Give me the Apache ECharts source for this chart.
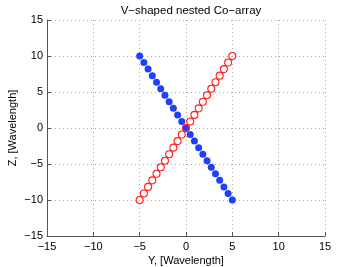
<!DOCTYPE html>
<html><head><meta charset="utf-8">
<script src="https://cdn.jsdelivr.net/npm/echarts@6/dist/echarts.min.js"></script>
<style>html,body{margin:0;padding:0;background:#fff}#c{width:359px;height:267px}</style>
</head><body><div id="c"></div>
<script>
var title = 'V\u2212shaped nested Co\u2212array';
var xLabel = 'Y, [Wavelength]';
var yLabel = 'Z, [Wavelength]';
var axisTicks = [-15, -10, -5, 0, 5, 10, 15];
var posY = [-5, -4.545, -4.091, -3.636, -3.182, -2.727, -2.273, -1.818, -1.364, -0.909, -0.455, 0, 0.455, 0.909, 1.364, 1.818, 2.273, 2.727, 3.182, 3.636, 4.091, 4.545, 5];
var blueZ = [10, 9.091, 8.182, 7.273, 6.364, 5.455, 4.545, 3.636, 2.727, 1.818, 0.909, 0, -0.909, -1.818, -2.727, -3.636, -4.545, -5.455, -6.364, -7.273, -8.182, -9.091, -10];
var redZ = [-10, -9.091, -8.182, -7.273, -6.364, -5.455, -4.545, -3.636, -2.727, -1.818, -0.909, 0, 0.909, 1.818, 2.727, 3.636, 4.545, 5.455, 6.364, 7.273, 8.182, 9.091, 10];

function pairs(xs, ys){ return xs.map(function(x,i){ return [x, ys[i]]; }); }
function fmt(v){ return String(v).replace('-', '\u2212'); }
var font = 'Liberation Sans, Arial, sans-serif';
var axisCommon = {
  min: axisTicks[0], max: axisTicks[axisTicks.length-1], interval: 5,
  nameMoveOverlap: false,
  axisLine: {show: true, onZero: false, lineStyle: {color: '#555', width: 1}},
  axisTick: {show: true, inside: true, length: 4, lineStyle: {color: '#555'}},
  axisLabel: {color: '#000', fontSize: 11, fontFamily: font, formatter: fmt},
  splitLine: {show: true, lineStyle: {color: '#aaa', type: [1, 3], width: 1}},
  nameTextStyle: {color: '#000', fontSize: 11, fontFamily: font}
};
var chart = echarts.init(document.getElementById('c'), null, {renderer: 'canvas'});
chart.setOption({
  animation: false,
  backgroundColor: '#fff',
  title: {text: title, left: 186, top: 0, textAlign: 'center', textStyle: {fontSize: 11.5, fontWeight: 'normal', color: '#000', fontFamily: font}},
  grid: {left: 47, right: 34, top: 20, bottom: 31, containLabel: false, outerBoundsMode: 'none'},
  xAxis: Object.assign({}, axisCommon, {type: 'value', name: xLabel, nameLocation: 'middle', nameGap: 19,
    axisLabel: Object.assign({}, axisCommon.axisLabel, {margin: 5})}),
  yAxis: Object.assign({}, axisCommon, {type: 'value', name: yLabel, nameLocation: 'middle', nameGap: 29,
    axisLabel: Object.assign({}, axisCommon.axisLabel, {margin: 4})}),
  series: [
    {type: 'scatter', data: pairs(posY, blueZ), symbol: 'circle', symbolSize: 7,
     itemStyle: {color: '#1f3fff', opacity: 1}},
    {type: 'scatter', data: pairs(posY, redZ), symbol: 'circle', symbolSize: 7,
     itemStyle: {color: 'rgba(255,255,255,0)', borderColor: '#ff2020', borderWidth: 1.1, opacity: 1}}
  ]
});
</script></body></html>
